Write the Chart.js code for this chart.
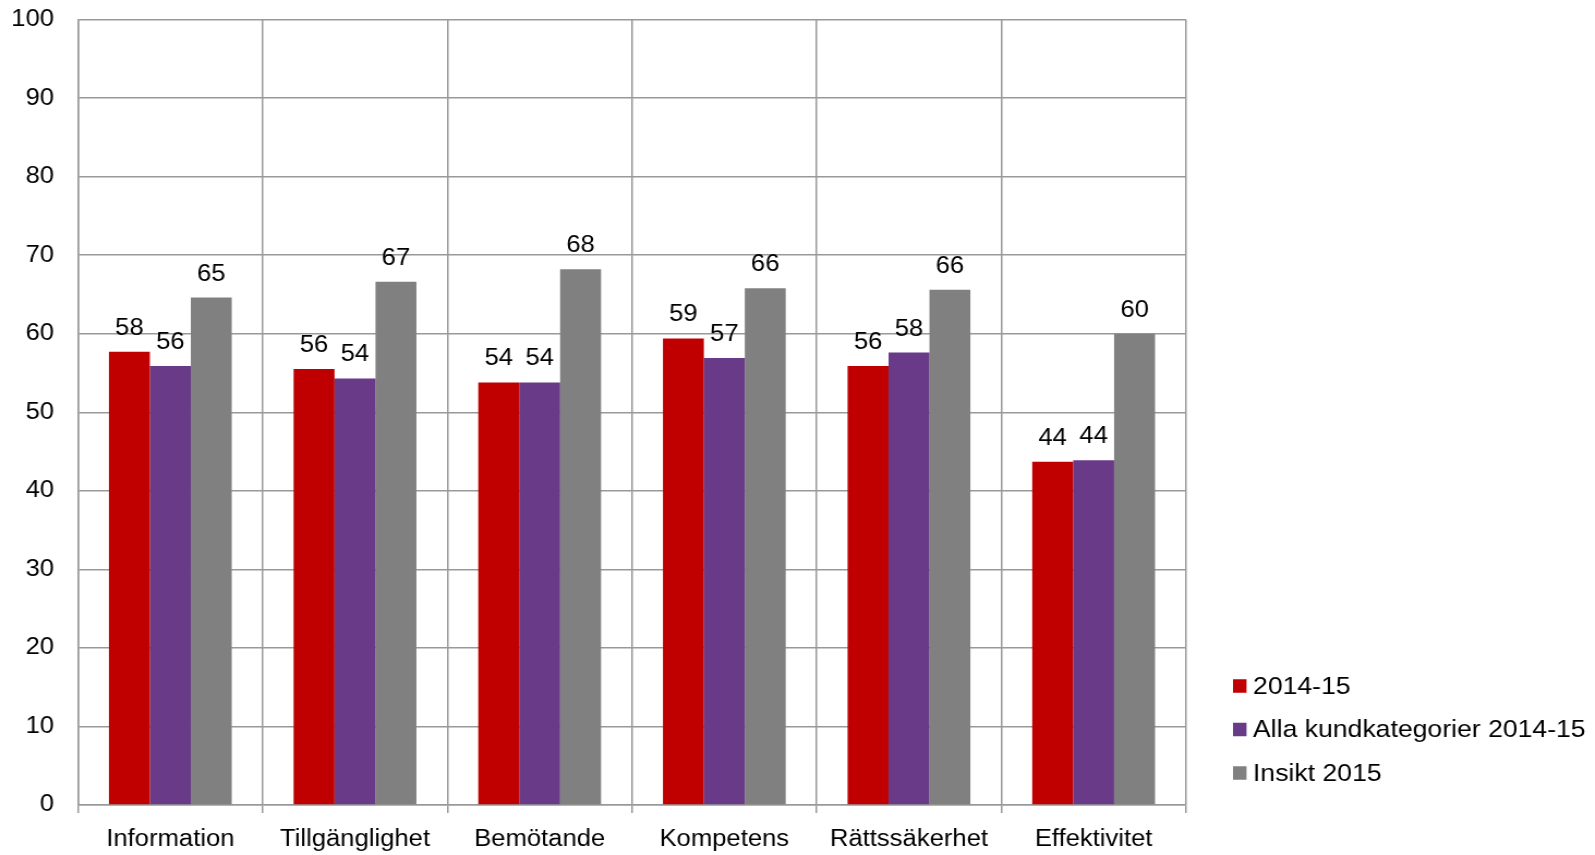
<!DOCTYPE html>
<html>
<head>
<meta charset="utf-8">
<script src="https://cdn.jsdelivr.net/npm/chart.js@4.4.0/dist/chart.umd.min.js"></script>
<style>
  html, body { margin: 0; padding: 0; background: #ffffff; overflow: hidden; }
  #wrap { width: 1595px; height: 855px; position: relative; overflow: hidden; }
  #inner { position: absolute; left: 0; top: 0; width: 1463px; height: 855px; transform: scaleX(1.0902); transform-origin: 0 0; }
</style>
</head>
<body>
<div id="wrap"><div id="inner"><canvas id="c"></canvas></div></div>
<script>
const categories = ["Information", "Tillgänglighet", "Bemötande", "Kompetens", "Rättssäkerhet", "Effektivitet"];
const seriesNames = ["2014-15", "Alla kundkategorier 2014-15", "Insikt 2015"];
const values2014 = [57.7, 55.5, 53.8, 59.4, 55.9, 43.7];
const valuesAlla = [55.9, 54.3, 53.8, 56.9, 57.6, 43.9];
const valuesInsikt = [64.6, 66.6, 68.2, 65.8, 65.6, 60.0];
const seriesColors = ["#c00000", "#693a88", "#808080"];
const yTicks = [0, 10, 20, 30, 40, 50, 60, 70, 80, 90, 100];

const SX = 1.0902; // horizontal stretch of the original rendering
const FONT = "'Liberation Sans', Arial, sans-serif";
const FS = 23.5;
const LFS = 24.4;

const valueLabels = {
  id: 'valueLabels',
  afterDatasetsDraw(chart) {
    const ctx = chart.ctx;
    ctx.save();
    ctx.font = FS + "px " + FONT;
    ctx.fillStyle = "#000";
    ctx.textAlign = "center";
    ctx.textBaseline = "alphabetic";
    chart.data.datasets.forEach((ds, i) => {
      chart.getDatasetMeta(i).data.forEach((bar, j) => {
        ctx.fillText(String(Math.round(ds.data[j])), bar.x, bar.y - 17);
      });
    });
    ctx.restore();
  }
};

const sideLegend = {
  id: 'sideLegend',
  afterDraw(chart) {
    const ctx = chart.ctx;
    ctx.save();
    ctx.font = LFS + "px " + FONT;
    ctx.textAlign = "left";
    ctx.textBaseline = "middle";
    const x0 = 1233 / SX, y0 = 686, step = 43.5, bw = 13.5 / SX, bh = 13.5;
    chart.data.datasets.forEach((ds, i) => {
      const y = y0 + i * step;
      ctx.fillStyle = ds.backgroundColor;
      ctx.fillRect(x0, y - bh / 2, bw, bh);
      ctx.fillStyle = "#000";
      ctx.fillText(ds.label, x0 + 20 / SX, y + 1);
    });
    ctx.restore();
  }
};

new Chart(document.getElementById('c'), {
  type: 'bar',
  data: {
    labels: categories,
    datasets: [
      { label: seriesNames[0], data: values2014, backgroundColor: seriesColors[0] },
      { label: seriesNames[1], data: valuesAlla, backgroundColor: seriesColors[1] },
      { label: seriesNames[2], data: valuesInsikt, backgroundColor: seriesColors[2] }
    ]
  },
  options: {
    responsive: true,
    maintainAspectRatio: false,
    animation: false,
    devicePixelRatio: 1,
    layout: { padding: { left: 0, right: 409 / SX, top: 19.5, bottom: 0 } },
    categoryPercentage: 0.665,
    barPercentage: 1.0,
    plugins: {
      legend: { display: false },
      tooltip: { enabled: false }
    },
    scales: {
      x: {
        afterFit(scale) { scale.height = 50; },
        grid: { display: true, color: '#999999', lineWidth: 1.5, offset: true, drawTicks: true, tickLength: 8 },
        border: { display: true, color: '#999999', width: 1.5 },
        ticks: { color: '#000', font: { family: FONT, size: FS }, padding: 12 }
      },
      y: {
        min: 0, max: 100,
        afterFit(scale) { scale.width = 78 / SX; scale.paddingTop = 0; scale.paddingBottom = 0; },
        afterBuildTicks(scale) { scale.ticks = yTicks.map(v => ({ value: v })); },
        grid: { color: '#999999', lineWidth: 1.5, drawTicks: false },
        border: { display: true, color: '#999999', width: 1.5 },
        ticks: { color: '#000', font: { family: FONT, size: FS }, padding: 24 / SX }
      }
    }
  },
  plugins: [valueLabels, sideLegend]
});
</script>
</body>
</html>
